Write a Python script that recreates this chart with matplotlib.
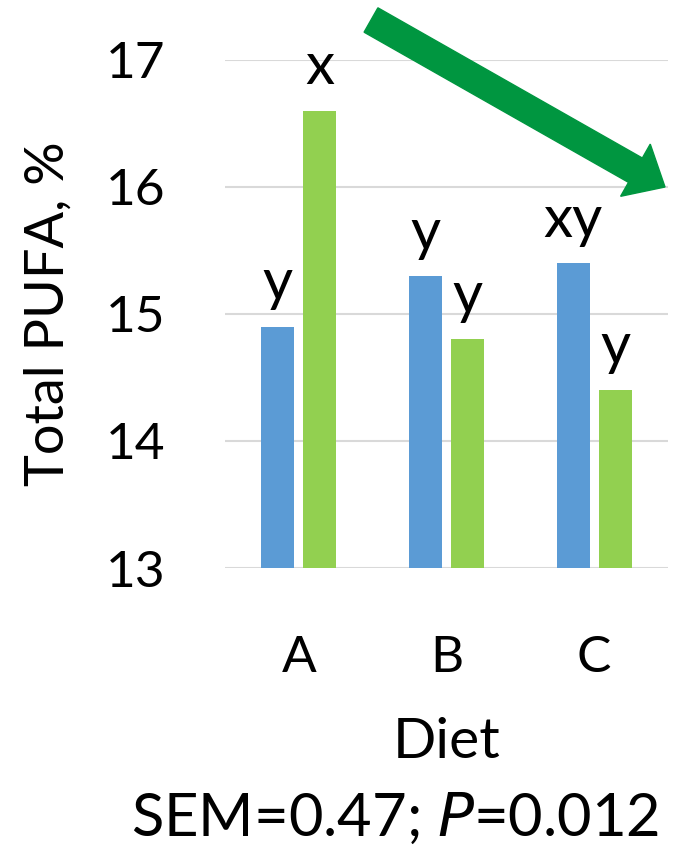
import numpy as np
import matplotlib
matplotlib.use('Agg')
import matplotlib.pyplot as plt
from matplotlib.patches import FancyArrow

plt.rcParams['font.family'] = ['Lato', 'DejaVu Sans']

diets = ['A', 'B', 'C']
pufa_blue = [14.9, 15.3, 15.4]
pufa_green = [16.6, 14.8, 14.4]
letters_blue = ['y', 'y', 'xy']
letters_green = ['x', 'y', 'y']

blue = '#5B9BD5'
green = '#92D050'

fig = plt.figure(figsize=(6.77, 8.47), dpi=100)
ax = fig.add_axes([225 / 677, 1 - 568 / 847, 443 / 677, 508 / 847])

x = np.arange(len(diets))
w = 0.225
off = 0.142
ax.bar(x - off, pufa_blue, width=w, color=blue, bottom=0, zorder=3)
ax.bar(x + off, pufa_green, width=w, color=green, bottom=0, zorder=3)

for xi, v, s in zip(x - off, pufa_blue, letters_blue):
    ax.annotate(s, (xi, v), xytext=(0, 19), textcoords='offset points',
                ha='center', va='baseline', fontsize=42, clip_on=False)
for xi, v, s in zip(x + off, pufa_green, letters_green):
    ax.annotate(s, (xi, v), xytext=(0, 19), textcoords='offset points',
                ha='center', va='baseline', fontsize=42, clip_on=False)

ax.set_xlim(-0.5, 2.5)
ax.set_ylim(13, 17)
ax.set_yticks([13, 14, 15, 16, 17])
ax.set_xticks(x)
ax.set_xticklabels(diets)
ax.tick_params(axis='both', length=0, labelsize=37)
ax.tick_params(axis='y', pad=43)
ax.tick_params(axis='x', pad=48)
ax.yaxis.grid(True, color='#D9D9D9', linewidth=1.5, zorder=0)
for sp in ax.spines.values():
    sp.set_visible(False)
ax.set_axisbelow(True)

ax.set_xlabel('Diet', fontsize=41, labelpad=26)
ax.set_ylabel('Total PUFA, %', fontsize=39)
ax.yaxis.set_label_coords(-0.345, 0.5)

fig.text(395 / 677, 1 - 818 / 847, 'SEM=0.47; $\\it{P}$=0.012', fontsize=43,
         ha='center', va='center')

# downward trend arrow drawn in pixel space
fig.add_artist(FancyArrow(371, 827, 294, -167, width=28, head_width=60,
                          head_length=34, length_includes_head=True,
                          color='#009640', transform=None))

fig.savefig('out.png', dpi=100)
